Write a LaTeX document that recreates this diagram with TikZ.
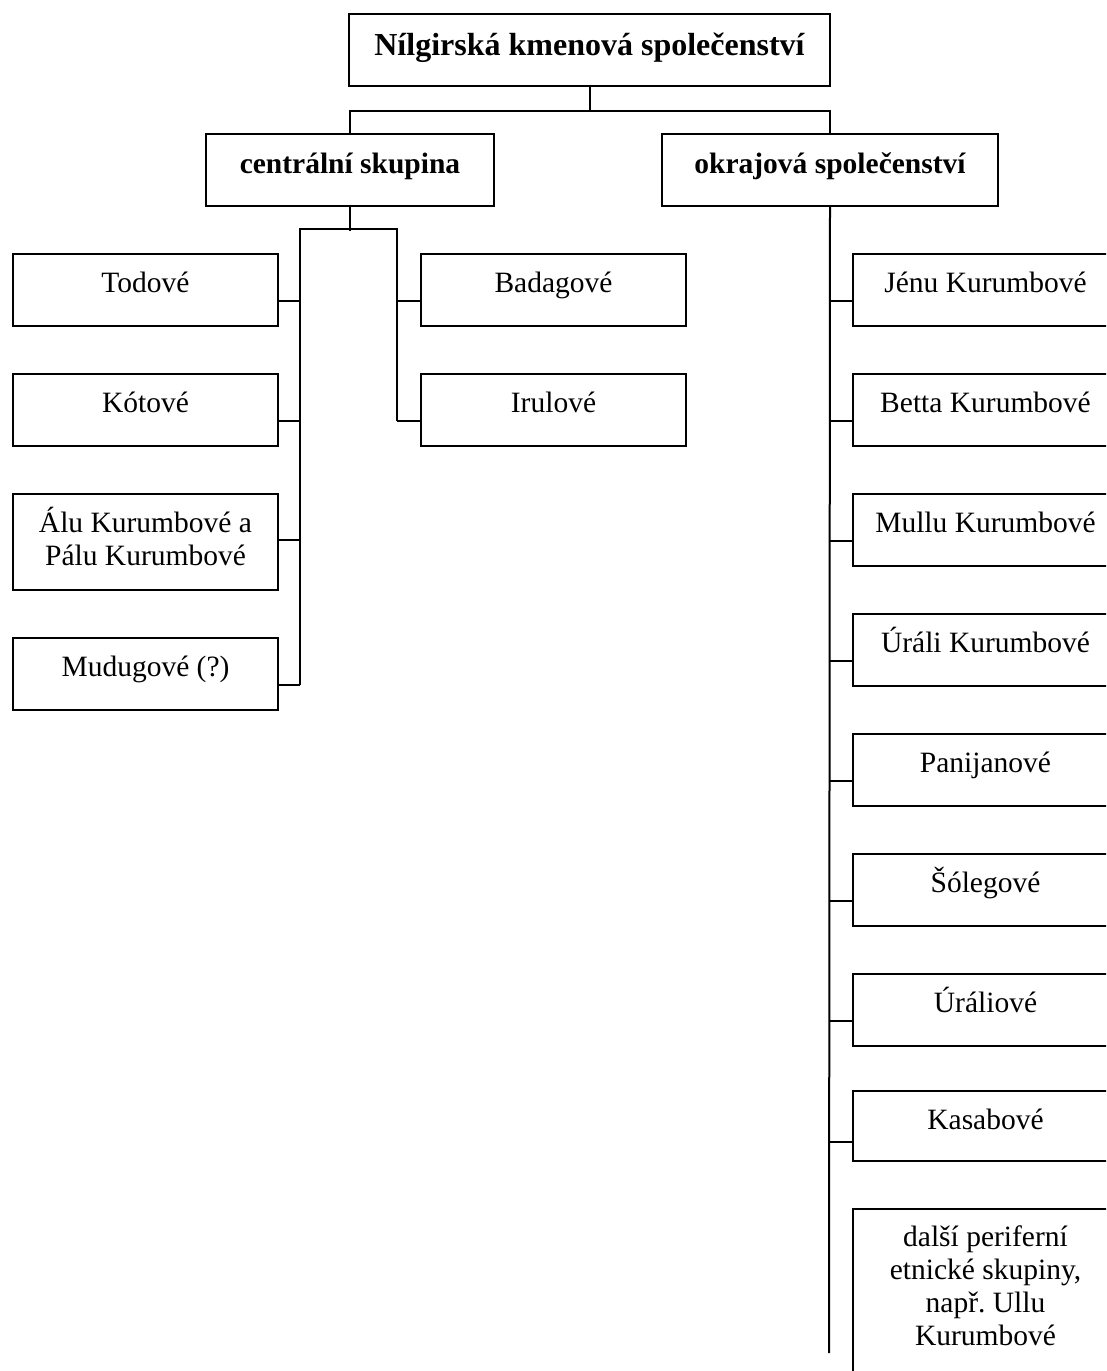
\documentclass[tikz,border=0pt]{standalone}
\usepackage{fontspec}
\setmainfont{Liberation Serif}
\frenchspacing
\begin{document}
\begin{tikzpicture}[x=1pt,y=-1pt, line width=2pt,
  box/.style={draw, line width=2pt, inner sep=0pt, anchor=north west, minimum width=#1},
  box/.default=265pt,
  lbl/.style={anchor=base, inner sep=0pt, font=\fontsize{29.5}{33}\selectfont},
  blbl/.style={anchor=base, inner sep=0pt, font=\fontsize{29.5}{33}\selectfont\bfseries},
  tlbl/.style={anchor=base, inner sep=0pt, font=\fontsize{32}{36}\selectfont\bfseries},
  mlbl/.style={anchor=north, inner sep=0pt, align=center, font=\fontsize{29.5}{33}\selectfont}
]
\useasboundingbox (0,0) rectangle (1106,1371);
\clip (0,0) rectangle (1106,1371);

% header boxes
\node[box=481pt, minimum height=72pt] (top) at (348,13) {};
\node[tlbl] (topT) at ([yshift=-42pt]top.north) {Nílgirská kmenová společenství};
\node[box=288pt, minimum height=72pt] (central) at (205,133) {};
\node[blbl] (centralT) at ([yshift=-40pt]central.north) {centrální skupina};
\node[box=336pt, minimum height=72pt] (okraj) at (661,133) {};
\node[blbl] (okrajT) at ([yshift=-40pt]okraj.north) {okrajová společenství};

% central group, left column
\node[box, minimum height=72pt] (todo) at (12,253) {};
\node[lbl] (todoT) at ([yshift=-39pt]todo.north) {Todové};
\node[box, minimum height=72pt] (koto) at (12,373) {};
\node[lbl] (kotoT) at ([yshift=-39pt]koto.north) {Kótové};
\node[box, minimum height=96pt] (alu) at (12,493) {};
\node[mlbl] (aluT) at ([yshift=-10pt]alu.north) {\rule{0pt}{28pt}Álu Kurumbové a\\Pálu Kurumbové};
\node[box, minimum height=72pt] (mudu) at (12,637) {};
\node[lbl] (muduT) at ([yshift=-39pt]mudu.north) {Mudugové (?)};

% central group, middle column
\node[box, minimum height=72pt] (bada) at (420,253) {};
\node[lbl] (badaT) at ([yshift=-39pt]bada.north) {Badagové};
\node[box, minimum height=72pt] (irul) at (420,373) {};
\node[lbl] (irulT) at ([yshift=-39pt]irul.north) {Irulové};

% peripheral communities
\node[box, minimum height=72pt] (jenu) at (852,253) {};
\node[lbl] (jenuT) at ([yshift=-39pt]jenu.north) {Jénu Kurumbové};
\node[box, minimum height=72pt] (betta) at (852,373) {};
\node[lbl] (bettaT) at ([yshift=-39pt]betta.north) {Betta Kurumbové};
\node[box, minimum height=72pt] (mullu) at (852,493) {};
\node[lbl] (mulluT) at ([yshift=-39pt]mullu.north) {Mullu Kurumbové};
\node[box, minimum height=72pt] (urali) at (852,613) {};
\node[lbl] (uraliT) at ([yshift=-39pt]urali.north) {Úráli Kurumbové};
\node[box, minimum height=72pt] (pani) at (852,733) {};
\node[lbl] (paniT) at ([yshift=-39pt]pani.north) {Panijanové};
\node[box, minimum height=72pt] (sole) at (852,853) {};
\node[lbl] (soleT) at ([yshift=-39pt]sole.north) {Šólegové};
\node[box, minimum height=72pt] (uralio) at (852,973) {};
\node[lbl] (uralioT) at ([yshift=-39pt]uralio.north) {Úráliové};
\node[box, minimum height=70pt] (kasa) at (852,1090) {};
\node[lbl] (kasaT) at ([yshift=-39pt]kasa.north) {Kasabové};
\node[box, minimum height=220pt] (dalsi) at (852,1208) {};
\node[mlbl] (dalsiT) at ([yshift=-9pt]dalsi.north) {\rule{0pt}{28pt}další periferní\\etnické skupiny,\\např. Ullu\\Kurumbové};

% connectors: top level
\coordinate (jt) at ([yshift=-24pt]top.south);
\draw (top.south) -- (jt);
\draw (jt) -| (central.north);
\draw (jt) -| (okraj.north);

% connectors: central group
\coordinate (jc) at ([yshift=-24pt]central.south);
\coordinate (jL) at (300,229);
\coordinate (jR) at (397,229);
\coordinate (eL) at (300,685);
\coordinate (eR) at (397,421);
\draw (central.south) -- (jc);
\draw (eL) |- (jR) -- (eR);
\draw ([yshift=-48pt]todo.north east) -- ([yshift=-48pt]todo.north east -| jL);
\draw ([yshift=-48pt]koto.north east) -- ([yshift=-48pt]koto.north east -| jL);
\draw ([yshift=-47pt]alu.north east) -- ([yshift=-47pt]alu.north east -| jL);
\draw ([yshift=-48pt]mudu.north east) -- ([yshift=-48pt]mudu.north east -| jL);
\draw ([yshift=-48pt]bada.north west) -- ([yshift=-48pt]bada.north west -| jR);
\draw ([yshift=-48pt]irul.north west) -- ([yshift=-48pt]irul.north west -| jR);

% connectors: peripheral communities
\coordinate (rend) at (829,1353);
\draw (okraj.south) -- (rend);
\draw ([yshift=-48pt]jenu.north west) -- ([yshift=-48pt]jenu.north west -| okraj.south);
\draw ([yshift=-48pt]betta.north west) -- ([yshift=-48pt]betta.north west -| okraj.south);
\draw ([yshift=-48pt]mullu.north west) -- ([yshift=-48pt]mullu.north west -| okraj.south);
\draw ([yshift=-48pt]urali.north west) -- ([yshift=-48pt]urali.north west -| okraj.south);
\draw ([yshift=-48pt]pani.north west) -- ([yshift=-48pt]pani.north west -| okraj.south);
\draw ([yshift=-48pt]sole.north west) -- ([yshift=-48pt]sole.north west -| okraj.south);
\draw ([yshift=-48pt]uralio.north west) -- ([yshift=-48pt]uralio.north west -| okraj.south);
\draw ([yshift=-52pt]kasa.north west) -- ([yshift=-52pt]kasa.north west -| okraj.south);
\end{tikzpicture}
\end{document}
